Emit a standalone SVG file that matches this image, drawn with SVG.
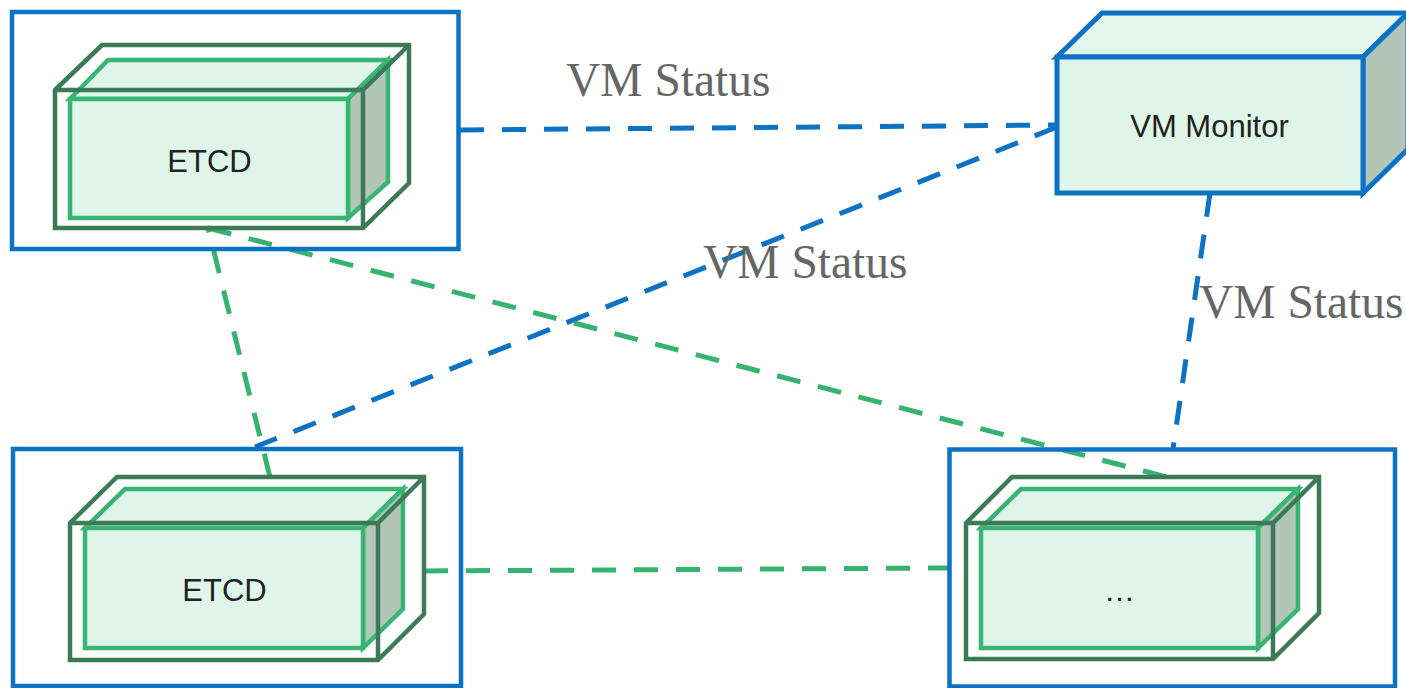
<svg xmlns="http://www.w3.org/2000/svg" width="1406" height="688" viewBox="0 0 1406 688">
<style>
.cont{fill:none;stroke:#0b72c4;stroke-width:4.5}
.outer{fill:none;stroke:#3d7a58;stroke-width:4.5;stroke-linejoin:miter}
.inner{stroke:#38b572;stroke-width:4.5;stroke-linejoin:miter}
.face{fill:#dff5e9}
.side{fill:#b1c5b9}
.vm{stroke:#0b72c4;stroke-width:5}
.lbl{font-family:"Liberation Sans",Arial,sans-serif;font-size:31px;fill:#222;text-anchor:middle}
.st{font-family:"Liberation Serif","Times New Roman",serif;font-size:47.5px;fill:#666}
.blue{fill:none;stroke:#0b72c4;stroke-width:5;stroke-dasharray:24 18}
.green{fill:none;stroke:#36b36f;stroke-width:5;stroke-dasharray:24 18}
</style>
<rect width="1406" height="688" fill="#fff"/>
<g id="connectors">
<line class="blue" x1="460" y1="130" x2="1057" y2="125"/>
<line class="blue" x1="1057" y1="127" x2="255" y2="447"/>
<line class="blue" x1="1210" y1="193" x2="1173" y2="449"/>
<line class="green" x1="270" y1="477" x2="208" y2="228"/>
<line class="green" x1="208" y1="228" x2="1167" y2="477"/>
<line class="green" x1="424" y1="571" x2="949" y2="568"/>
</g>
<g id="labels">
<text class="st" x="566" y="96">VM Status</text>
<text class="st" x="703" y="278">VM Status</text>
<text class="st" x="1199" y="318">VM Status</text>
</g>
<g id="container-tl"><rect class="cont" x="12" y="12" width="446.5" height="237"/></g>
<g id="container-bl"><rect class="cont" x="13" y="449" width="448" height="237"/></g>
<g id="container-br"><rect class="cont" x="949.5" y="449.5" width="445.5" height="237"/></g>
<g id="etcd-1">
<path class="inner face" d="M70,99 L108,60 L388,60 L348,99 Z"/>
<path class="inner side" d="M348,99 L388,60 L388,182 L348,218 Z"/>
<rect class="inner face" x="70" y="99" width="278" height="119"/>
<path class="outer" d="M55,90 L102,45 L409,45 L409,183 L363,228 L55,228 Z M55,90 L363,90 L409,45 M363,90 L363,228"/>
<text class="lbl" x="209.5" y="172">ETCD</text>
</g>
<g id="etcd-2">
<path class="inner face" d="M85,528 L125,489 L403,489 L363,528 Z"/>
<path class="inner side" d="M363,528 L403,489 L403,609 L363,648 Z"/>
<rect class="inner face" x="85" y="528" width="278" height="120"/>
<path class="outer" d="M70,523 L117,477 L424,477 L424,614 L378,660 L70,660 Z M70,523 L378,523 L424,477 M378,523 L378,660"/>
<text class="lbl" x="224.5" y="601">ETCD</text>
</g>
<g id="etcd-3">
<path class="inner face" d="M981,528 L1021,489 L1298,489 L1258,528 Z"/>
<path class="inner side" d="M1258,528 L1298,489 L1298,609 L1258,648 Z"/>
<rect class="inner face" x="981" y="528" width="277" height="120"/>
<path class="outer" d="M966,523 L1012,477 L1319,477 L1319,613 L1273,659 L966,659 Z M966,523 L1273,523 L1319,477 M1273,523 L1273,659"/>
<text class="lbl" x="1119.5" y="601">…</text>
</g>
<g id="vm-monitor">
<path class="vm" fill="#e2f6ec" d="M1057,57 L1102,13 L1408,13 L1363,57 Z"/>
<path class="vm side" d="M1363,57 L1408,13 L1408,149 L1363,193 Z"/>
<rect class="vm face" x="1057" y="57" width="306" height="136"/>
<text class="lbl" x="1209.5" y="137">VM Monitor</text>
</g>
</svg>
